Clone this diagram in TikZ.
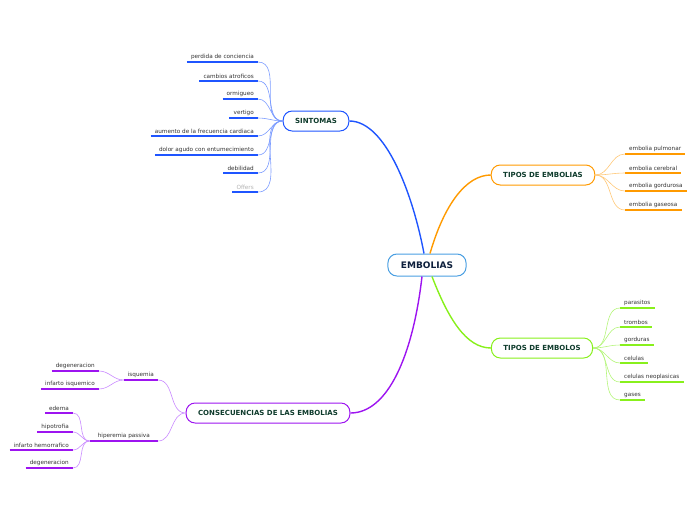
\documentclass[tikz,border=0pt]{standalone}
\usepackage{fontspec}
\setmainfont{DejaVu Sans}
\usetikzlibrary{positioning}

\definecolor{cenblue}{HTML}{4A9FE2}
\definecolor{sinblue}{HTML}{1F55FF}
\definecolor{sinlight}{HTML}{7C9CFF}
\definecolor{orng}{HTML}{FF9A00}
\definecolor{ornglight}{HTML}{FFC878}
\definecolor{lime}{HTML}{88F01C}
\definecolor{limelight}{HTML}{B4F57A}
\definecolor{purp}{HTML}{9D14F0}
\definecolor{purplight}{HTML}{C98AFF}
\definecolor{darkgreen}{HTML}{0E3B2C}
\definecolor{navy}{HTML}{0D1F3C}
\definecolor{leafgray}{HTML}{333333}

\begin{document}
\begin{tikzpicture}[x=1pt, y=-1pt,
  topic/.style={draw, rounded corners=9pt, fill=white, line width=1pt, minimum height=20pt, inner xsep=12pt, text=darkgreen, font=\bfseries\fontsize{7}{8}\selectfont},
  leafl/.style={anchor=south east, inner xsep=4pt, inner ysep=1.8pt, text=leafgray, font=\fontsize{5.7}{6}\selectfont},
  leafr/.style={leafl, anchor=south west},
  branch/.style={line width=1.4pt},
  twig/.style={line width=0.6pt},
  ul/.style={line width=1.5pt}
]
\useasboundingbox (0,0) rectangle (696,520);

% main topics
\node[topic, draw=cenblue, text=navy, font=\bfseries\fontsize{9}{10}\selectfont, minimum height=22pt, inner xsep=13pt] (emb) at (427,265) {EMBOLIAS};
\node[topic, draw=sinblue] (sin) at (316,121) {SINTOMAS};
\node[topic, draw=orng] (tem) at (543,175) {TIPOS DE EMBOLIAS};
\node[topic, draw=lime] (teo) at (542,348) {TIPOS DE EMBOLOS};
\node[topic, draw=purp] (con) at (268,413) {CONSECUENCIAS DE LAS EMBOLIAS};

\draw[branch, sinblue] ([xshift=-3pt]emb.north) .. controls (413,195) and (386,121) .. (sin.east);
\draw[branch, orng] ([xshift=3pt]emb.north) .. controls (444,205) and (466,175) .. (tem.west);
\draw[branch, lime] ([xshift=5pt]emb.south) .. controls (448,318) and (466,348) .. (teo.west);
\draw[branch, purp] ([xshift=-5pt]emb.south) .. controls (413,355) and (388,413) .. (con.east);

% sintomas
\node[leafl] (s1) at (258,62) {perdida de conciencia};
\node[leafl] (s2) at (258,81) {cambios atroficos};
\node[leafl] (s3) at (258,99) {ormigueo};
\node[leafl] (s4) at (258,118) {vertigo};
\node[leafl] (s5) at (258,136) {aumento de la frecuencia cardiaca};
\node[leafl] (s6) at (258,155) {dolor agudo con entumecimiento};
\node[leafl] (s7) at (258,173) {debilidad};
\node[leafl, text=gray!60] (s8) at (258,192) {Offers};
\foreach \n in {s1,s2,s3,s4,s5,s6,s7,s8} {
  \draw[ul, sinblue] (\n.south west) -- (\n.south east);
  \draw[twig, sinlight] (\n.south east) to[out=0, in=180] (sin.west);
}

% tipos de embolias
\node[leafr] (e1) at (625,154) {embolia pulmonar};
\node[leafr] (e2) at (625,173) {embolia cerebral};
\node[leafr] (e3) at (625,191) {embolia gordurosa};
\node[leafr] (e4) at (625,210) {embolia gaseosa};
\foreach \n in {e1,e2,e3,e4} {
  \draw[ul, orng] (\n.south west) -- (\n.south east);
  \draw[twig, ornglight] (tem.east) to[out=0, in=180] (\n.south west);
}

% tipos de embolos
\node[leafr] (b1) at (620,308) {parasitos};
\node[leafr] (b2) at (620,327) {trombos};
\node[leafr] (b3) at (620,345) {gorduras};
\node[leafr] (b4) at (620,363) {celulas};
\node[leafr] (b5) at (620,382) {celulas neoplasicas};
\node[leafr] (b6) at (620,400) {gases};
\foreach \n in {b1,b2,b3,b4,b5,b6} {
  \draw[ul, lime] (\n.south west) -- (\n.south east);
  \draw[twig, limelight] (teo.east) to[out=0, in=180] (\n.south west);
}

% consecuencias
\node[leafl] (isq) at (158,380) {isquemia};
\node[leafl, minimum width=68pt, align=right] (hip) at (158,441) {\hfill hiperemia passiva};
\foreach \n in {isq,hip} {
  \draw[ul, purp] (\n.south west) -- (\n.south east);
  \draw[twig, purplight] (\n.south east) to[out=0, in=180] (con.west);
}
\node[leafl] (i1) at (99,371) {degeneracion};
\node[leafl] (i2) at (99,389) {infarto isquemico};
\foreach \n in {i1,i2} {
  \draw[ul, purp] (\n.south west) -- (\n.south east);
  \draw[twig, purplight] (\n.south east) to[out=0, in=180] (isq.south west);
}
\node[leafl] (h1) at (73,413) {edema};
\node[leafl] (h2) at (73,432) {hipotrofia};
\node[leafl] (h3) at (73,450) {infarto hemorrafico};
\node[leafl] (h4) at (73,468) {degeneracion};
\foreach \n in {h1,h2,h3,h4} {
  \draw[ul, purp] (\n.south west) -- (\n.south east);
  \draw[twig, purplight] (\n.south east) to[out=0, in=180] (hip.south west);
}
\end{tikzpicture}
\end{document}
